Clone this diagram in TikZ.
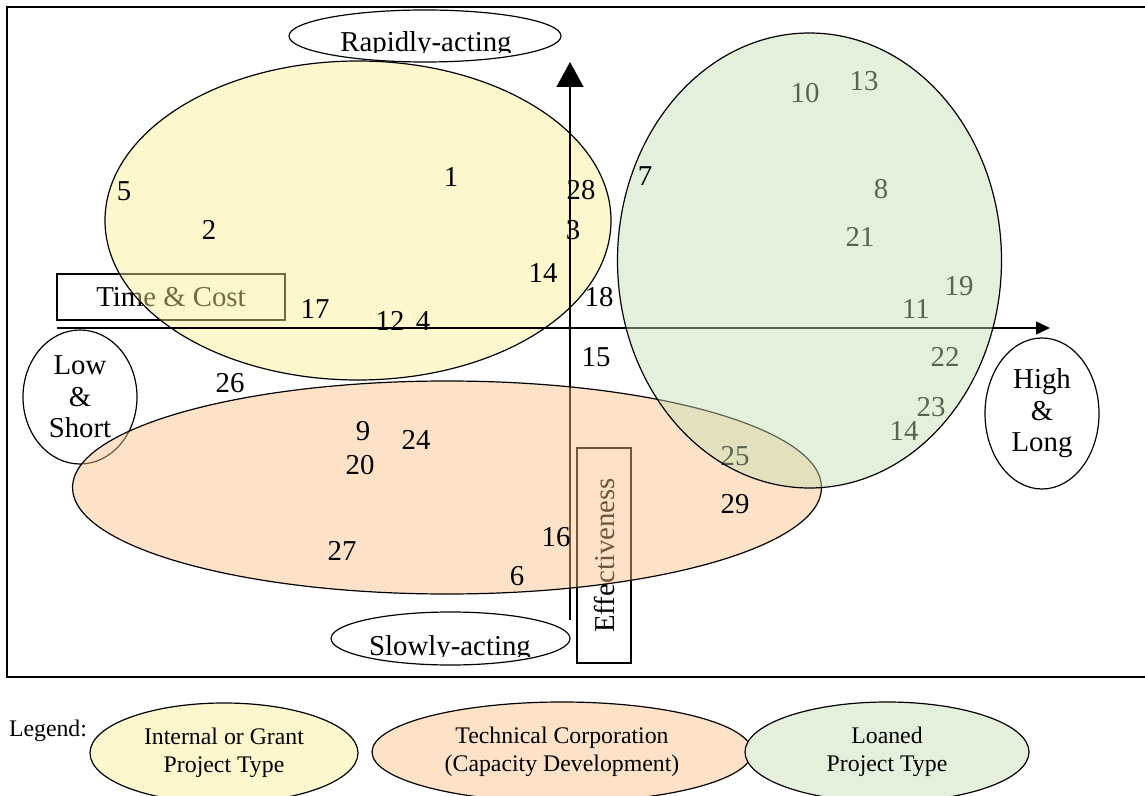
\documentclass[tikz,border=0pt]{standalone}
\usepackage{fontspec}
\setmainfont{Liberation Serif}
\usetikzlibrary{
  shapes.geometric,
  arrows.meta
}
\definecolor{grantfill}{RGB}{251,238,144}
\definecolor{techfill}{RGB}{251,191,133}
\definecolor{loanfill}{RGB}{196,222,178}

\begin{document}
\begin{tikzpicture}[x = 0.5pt, y = -0.5pt]
  \tikzset{
    lbl/.style = {font = \fontsize{14.4}{15.8}\selectfont, inner sep = 0pt},
    legendtxt/.style = {font = \fontsize{11.9}{14}\selectfont, align = center},
    region/.style = {draw = black, line width = 0.6pt, fill opacity = 0.45},
    tag/.style = {ellipse, draw, line width = 0.6pt, inner sep = 0pt},
    axis/.style = {line width = 0.7pt}
  }
  \useasboundingbox (0,0) rectangle (1145,796);

  % frame
  \draw[line width = 0.7pt] (1145,7) -- (7,7) -- (7,677) -- (1145,677);

  % boxes and tags that lie under the regions
  \node[draw, lbl, line width = 0.6pt, minimum width = 114pt, minimum height = 23pt] (timecost) at (171,297) {Time \& Cost};
  \node[draw, lbl, line width = 0.6pt, rotate = 90, minimum width = 107.5pt, minimum height = 27pt] (effect) at (604,555.5) {Effectiveness};
  \node[tag, lbl, align = center, minimum width = 57pt, minimum height = 67pt] (lowshort) at (80,397) {Low\\\&\\Short};
  \node[tag, lbl, align = center, minimum width = 57pt, minimum height = 75.5pt] (highlong) at (1042,413.5) {High\\\&\\Long};

  \node[tag, minimum width = 136pt, minimum height = 26pt] (rapid) at (425,36) {};
  \node[tag, minimum width = 119.5pt, minimum height = 26.5pt] (slow) at (450.5,638.5) {};
  \begin{scope}
    \clip (0,0) rectangle (1145,53);
    \node[lbl, anchor = base] (rapidtxt) at (426,52) {Rapidly-acting};
  \end{scope}
  \begin{scope}
    \clip (0,600) rectangle (1145,656.5);
    \node[lbl, anchor = base] (slowtxt) at (450,655.5) {Slowly-acting};
  \end{scope}

  % grant region
  \filldraw[region, fill = grantfill] (358,220.5) ellipse [x radius = 253, y radius = 159.5];

  % axes
  \coordinate (cost0) at (57,328);
  \coordinate (cost1) at (1050,328);
  \coordinate (eff0) at (570,620);
  \coordinate (eff1) at (570,62);
  \draw[axis, -{Triangle[length = 7pt, width = 6.5pt]}] (cost0) -- (cost1);
  \draw[axis, -{Triangle[length = 12.5pt, width = 13.5pt]}] (eff0) -- (eff1);

  % technical corporation region
  \filldraw[region, fill = techfill] (447,487.5) ellipse [x radius = 374.5, y radius = 106.5];

  % projects under the loaned region
  \foreach \px/\py/\pn [count = \k] in {805/93/10, 864/81/13, 881/189/8, 860/237/21, 959/286/19,
    916/309/11, 945/357/22, 931/407/23, 904/431/14, 735/456/25}
    \node[lbl] (loan\k) at (\px,\py) {\pn};

  % loaned region
  \filldraw[region, fill = loanfill] (809.5,260.5) ellipse [x radius = 192, y radius = 227.5];

  % remaining projects
  \foreach \px/\py/\pn [count = \k] in {124/191/5, 451/177/1, 581/190/28, 209/230/2, 573/230/3,
    543/273/14, 315/309/17, 390/321/12, 423/321/4, 230/383/26, 645/176/7, 599/297/18,
    596/357/15, 735/504/29, 363/431/9, 416/440/24, 360/465/20, 342/551/27, 556/537/16, 517/576/6}
    \node[lbl] (proj\k) at (\px,\py) {\pn};

  % legend
  \node[legendtxt, inner sep = 0pt] (legendhead) at (48,731) {Legend:};
  \node[tag, legendtxt, fill = grantfill!45, minimum width = 134pt, minimum height = 50pt] (leggrant) at (224,753) {Internal or Grant\\Project Type};
  \node[tag, legendtxt, fill = techfill!45, minimum width = 190pt, minimum height = 50pt] (legtech) at (562,752) {Technical Corporation\\(Capacity Development)};
  \node[tag, legendtxt, fill = loanfill!45, minimum width = 142pt, minimum height = 50pt] (legloan) at (887,752) {Loaned\\Project Type};
\end{tikzpicture}
\end{document}
